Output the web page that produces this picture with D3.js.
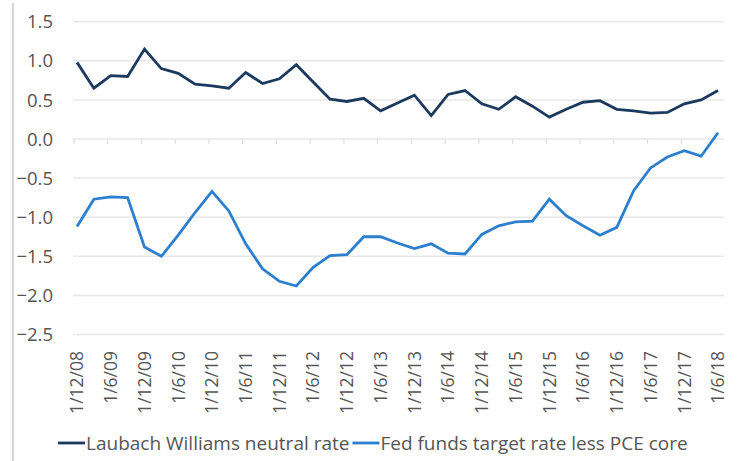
<!DOCTYPE html>
<html>
<head>
<meta charset="utf-8">
<script src="https://cdn.jsdelivr.net/npm/d3@7"></script>
<style>
  body { margin: 0; background: #fff; }
  svg { display: block; }
</style>
</head>
<body>
<div id="chart"></div>
<script>
// quarterly dates, every other one is labelled
const dates = [
  "1/12/08","1/3/09","1/6/09","1/9/09","1/12/09","1/3/10","1/6/10","1/9/10",
  "1/12/10","1/3/11","1/6/11","1/9/11","1/12/11","1/3/12","1/6/12","1/9/12",
  "1/12/12","1/3/13","1/6/13","1/9/13","1/12/13","1/3/14","1/6/14","1/9/14",
  "1/12/14","1/3/15","1/6/15","1/9/15","1/12/15","1/3/16","1/6/16","1/9/16",
  "1/12/16","1/3/17","1/6/17","1/9/17","1/12/17","1/3/18","1/6/18"
];

const neutralRate = [
  0.98, 0.65, 0.81, 0.80, 1.15, 0.90, 0.84, 0.70, 0.68, 0.65,
  0.85, 0.71, 0.77, 0.95, 0.73, 0.51, 0.48, 0.52, 0.36, 0.46,
  0.56, 0.30, 0.57, 0.62, 0.45, 0.38, 0.54, 0.42, 0.28, 0.38,
  0.47, 0.49, 0.38, 0.36, 0.33, 0.34, 0.45, 0.50, 0.62
];

const realFedFunds = [
  -1.12, -0.77, -0.74, -0.75, -1.38, -1.50, -1.23, -0.94, -0.67, -0.92,
  -1.34, -1.66, -1.82, -1.88, -1.64, -1.49, -1.48, -1.25, -1.25, -1.33,
  -1.40, -1.34, -1.46, -1.47, -1.22, -1.11, -1.06, -1.05, -0.77, -0.98,
  -1.11, -1.23, -1.13, -0.66, -0.37, -0.23, -0.15, -0.22, 0.08
];

const seriesNames = ["Laubach Williams neutral rate", "Fed funds target rate less PCE core"];
const seriesColors = ["#1c3a5e", "#2c7fcf"];
const yTicks = [1.5, 1.0, 0.5, 0.0, -0.5, -1.0, -1.5, -2.0, -2.5];

const width = 738, height = 461;
const font = "'Open Sans', 'Noto Sans', sans-serif";

const svg = d3.select("#chart").append("svg")
  .attr("width", width)
  .attr("height", height)
  .style("font-family", font);

// left border line
svg.append("line")
  .attr("x1", 13).attr("x2", 13)
  .attr("y1", 3).attr("y2", height)
  .attr("stroke", "#c8c8c8")
  .attr("stroke-width", 1.5);

const x = d3.scalePoint()
  .domain(dates)
  .range([77, 718]);

const y = d3.scaleLinear()
  .domain([-2.5, 1.5])
  .range([334.5, 21.7]);

// gridlines
svg.append("g")
  .selectAll("line")
  .data(yTicks)
  .enter().append("line")
  .attr("x1", 73).attr("x2", 724)
  .attr("y1", d => y(d)).attr("y2", d => y(d))
  .attr("stroke", "#e8e8e8")
  .attr("stroke-width", 1.5);

// y labels
svg.append("g")
  .selectAll("text")
  .data(yTicks)
  .enter().append("text")
  .attr("x", 53)
  .attr("y", d => y(d))
  .attr("dy", "0.36em")
  .attr("text-anchor", "end")
  .attr("fill", "#555")
  .style("font-size", "18.5px")
  .text(d => d3.format(".1f")(d));

// tick marks on the zero line
const labelled = dates.filter((d, i) => i % 2 === 0);
svg.append("g")
  .selectAll("line")
  .data(labelled)
  .enter().append("line")
  .attr("x1", d => x(d) - 3).attr("x2", d => x(d) - 3)
  .attr("y1", y(0)).attr("y2", y(0) + 5)
  .attr("stroke", "#e0e0e0")
  .attr("stroke-width", 1.2);

// x labels, rotated
svg.append("g")
  .selectAll("text")
  .data(labelled)
  .enter().append("text")
  .attr("transform", d => `translate(${x(d)},351) rotate(-90)`)
  .attr("dy", "0.36em")
  .attr("text-anchor", "end")
  .attr("fill", "#555")
  .style("font-size", "17.5px")
  .text(d => d);

// lines
const line = d3.line()
  .x((d, i) => x(dates[i]))
  .y(d => y(d));

[neutralRate, realFedFunds].forEach((vals, k) => {
  svg.append("path")
    .datum(vals)
    .attr("fill", "none")
    .attr("stroke", seriesColors[k])
    .attr("stroke-width", 2.8)
    .attr("stroke-linejoin", "miter")
    .attr("d", line);
});

// legend
let lx = 58;
const ly = 443;
seriesNames.forEach((name, k) => {
  svg.append("line")
    .attr("x1", lx).attr("x2", lx + 27)
    .attr("y1", ly).attr("y2", ly)
    .attr("stroke", seriesColors[k])
    .attr("stroke-width", 2.8);
  const t = svg.append("text")
    .attr("x", lx + 28)
    .attr("y", ly)
    .attr("dy", "0.35em")
    .attr("fill", "#555")
    .style("font-size", "19px")
    .text(name);
  lx += 28 + t.node().getComputedTextLength() + 3;
});
</script>
</body>
</html>
